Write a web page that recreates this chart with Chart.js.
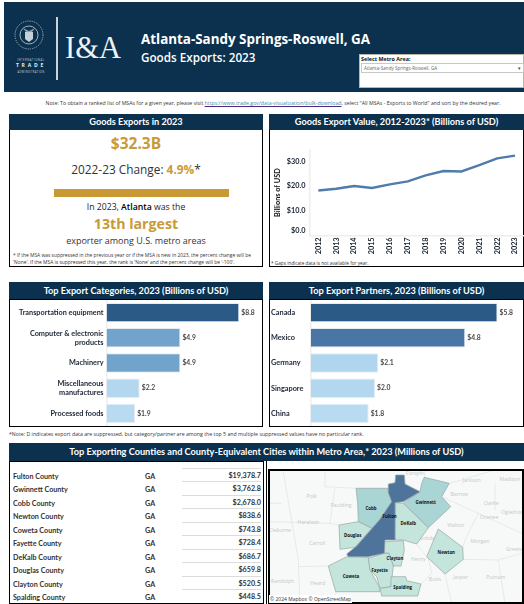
<!DOCTYPE html>
<html>
<head>
<meta charset="utf-8">
<title>Atlanta-Sandy Springs-Roswell, GA</title>
<script src="https://cdn.jsdelivr.net/npm/chart.js@4"></script>
<style>
html, body { margin: 0; padding: 0; background: #fff; overflow: hidden; }
body { width: 524px; height: 604px; position: relative; font-family: "Open Sans", sans-serif; color: #222; }
.abs { position: absolute; }
.bar { position: absolute; background: #0b314f; color: #fff; font-family: Lato, sans-serif; font-weight: 700; text-align: center; font-size: 9.2px; line-height: 16px; height: 16px; white-space: nowrap; }
.box { position: absolute; border: 1.5px solid #000; box-sizing: border-box; background: #fff; }
.center { position: absolute; text-align: center; white-space: nowrap; }
canvas { position: absolute; }
.row { position: absolute; left: 13px; width: 249px; height: 14px; font-family: Lato, sans-serif; font-size: 7.2px; font-weight: 700; color: #333; line-height: 14px; }
.row .st { position: absolute; left: 132px; }
.row .val { position: absolute; left: 169px; width: 79px; text-align: right; box-sizing: border-box; height: 13px; border-top: 1px solid #dcdcdc; top: -2px; line-height: 14px; }
</style>
</head>
<body>

<!-- header -->
<div class="abs" style="left:4px;top:2px;width:520px;height:90px;background:#0b314f"></div>
<svg class="abs" style="left:14px;top:20px" width="40" height="58">
  <circle cx="15" cy="15" r="14" fill="none" stroke="#9fb0bd" stroke-width="1" stroke-dasharray="1.2 1"></circle>
  <circle cx="15" cy="15" r="9" fill="none" stroke="#c5d0d8" stroke-width="0.8"></circle>
  <path d="M11 12h8v7l-4 3-4-3z" fill="#c5d0d8"></path>
  <path d="M9 8l6 3 6-3-3 4h-6z" fill="#8fa2b0"></path>
</svg>
<div class="abs" style="left:11px;top:58px;width:40px;text-align:center;color:#c9d3da;font-size:2.6px;letter-spacing:.6px">INTERNATIONAL</div>
<div class="abs" style="left:11px;top:62px;width:40px;text-align:center;color:#e6ebee;font-size:5px;font-weight:700;letter-spacing:2.8px">TRADE</div>
<div class="abs" style="left:11px;top:70px;width:40px;text-align:center;color:#c9d3da;font-size:2.6px;letter-spacing:.4px">ADMINISTRATION</div>
<div class="abs" style="left:56px;top:17px;width:1.5px;height:63px;background:#c9d3da"></div>
<div class="abs" style="left:65px;top:26px;color:#eef2f4;font-family:'Liberation Serif',serif;font-size:30.5px;line-height:44px">I&amp;A</div>
<div class="abs" style="left:141px;top:29px;color:#fff;font-size:13.4px;font-weight:700;line-height:20px;white-space:nowrap">Atlanta-Sandy Springs-Roswell, GA</div>
<div class="abs" style="left:141px;top:47px;color:#fff;font-size:11.7px;font-weight:600;line-height:20px;white-space:nowrap">Goods Exports: 2023</div>
<div class="abs" style="left:359px;top:54px;width:165px;height:34px;background:#fff;border:1px solid #b8b8a8;box-sizing:border-box"></div>
<div class="abs" style="left:361px;top:55px;font-size:5.4px;font-weight:700;color:#111;line-height:8px;white-space:nowrap">Select Metro Area:</div>
<div class="abs" style="left:361px;top:63px;width:163px;height:10px;border:1px solid #c8c8c8;box-sizing:border-box;font-size:4.6px;line-height:8px;color:#666;padding-left:2px;white-space:nowrap">Atlanta-Sandy Springs-Roswell, GA<span style="position:absolute;right:2px;color:#444">▾</span></div>

<div class="center" style="left:11px;width:524px;top:99px;font-size:5.22px;line-height:9px;color:#333">Note: To obtain a ranked list of MSAs for a given year, please visit <span style="color:#3f8fa8;text-decoration:underline;text-decoration-color:#4b2a86">https://www.trade.gov/data-visualization/bulk-download</span>, select "All MSAs - Exports to World" and sort by the desired year.</div>

<!-- KPI panel -->
<div class="box" style="left:9px;top:129px;width:254px;height:138px"></div>
<div class="bar" style="left:9px;top:114px;width:254px">Goods Exports in 2023</div>
<div class="center" id="kpiValue" style="left:9px;width:254px;top:131px;font-size:15.5px;font-weight:700;color:#c99a38;line-height:24px"></div>
<div class="center" id="kpiChange" style="left:9px;width:254px;top:160px;font-size:11.85px;color:#333;line-height:18px"></div>
<div class="abs" style="left:54px;top:189px;width:175px;height:8px;background:#c99a34"></div>
<div class="center" id="kpiRankA" style="left:9px;width:254px;top:200px;font-size:8.7px;color:#222;line-height:14px"></div>
<div class="center" id="kpiRank" style="left:9px;width:254px;top:214px;font-size:14.2px;font-weight:700;color:#c99a38;line-height:20px"></div>
<div class="center" style="left:9px;width:254px;top:234px;font-size:9px;color:#333;line-height:14px">exporter among U.S. metro areas</div>
<div class="abs" style="left:13px;top:252px;width:240px;height:13.5px;overflow:hidden;font-size:4.9px;line-height:7.4px;color:#333">* If the MSA was suppressed in the previous year or if the MSA is new in 2023, the percent change will be 'None'. If the MSA is suppressed this year, the rank is 'None' and the percent change will be '-100'.</div>

<!-- line panel -->
<div class="box" style="left:269px;top:129px;width:255px;height:138px"></div>
<div class="bar" style="left:269px;top:114px;width:255px">Goods Export Value, 2012-2023* (Billions of USD)</div>
<canvas id="lineChart" style="left:271px;top:140px"></canvas>
<div class="abs" style="left:271px;top:259px;font-size:4.7px;line-height:8px;color:#333">* Gaps indicate data is not available for year.</div>

<!-- category panel -->
<div class="box" style="left:9px;top:299px;width:254px;height:128px"></div>
<div class="bar" style="left:9px;top:282px;width:254px;height:17px;line-height:17px">Top Export Categories, 2023 (Billions of USD)</div>
<canvas id="categoryChart" style="left:11px;top:300px"></canvas>

<!-- partner panel -->
<div class="box" style="left:269px;top:299px;width:255px;height:128px"></div>
<div class="bar" style="left:269px;top:282px;width:255px;height:17px;line-height:17px">Top Export Partners, 2023 (Billions of USD)</div>
<canvas id="partnerChart" style="left:271px;top:300px"></canvas>

<div class="abs" style="left:9px;top:430px;font-size:5.23px;line-height:8px;color:#333;white-space:nowrap">*Note: D indicates export data are suppressed, but category/partner are among the top 5 and multiple suppressed values have no particular rank.</div>

<!-- county panel -->
<div class="box" style="left:9px;top:461px;width:255px;height:143px"></div>
<div class="abs" style="left:265.5px;top:461px;width:1.2px;height:143px;background:#000"></div>
<div class="bar" style="left:9px;top:443px;width:515px;height:18px;line-height:18px">Top Exporting Counties and County-Equivalent Cities within Metro Area,* 2023 (Millions of USD)</div>
<div id="countyTable"></div>

<!-- map panel -->
<svg class="abs" id="mapSvg" style="left:268px;top:469px;border:2px solid #000;box-sizing:border-box;background:#f7f8f8" width="256" height="135" viewBox="0 0 252 131" font-family="'Open Sans',sans-serif"></svg>
<div class="abs" style="left:269px;top:595px;background:#fff;font-size:5px;line-height:8px;color:#333;padding:0 1px;white-space:nowrap">© 2024 Mapbox  © OpenStreetMap</div>

<script>
// Headline figures
var kpiValue = '$32.3B';
var kpiChange = '4.9%';
var kpiRank = '13th largest';

// Line chart
var years = ['2012', '2013', '2014', '2015', '2016', '2017', '2018', '2019', '2020', '2021', '2022', '2023'];
var exportValues = [18.2, 18.9, 20.0, 19.2, 20.7, 21.9, 24.3, 26.1, 25.9, 28.5, 31.2, 32.3];
var lineTicks = [0, 10, 20, 30];

// Bar charts
var categories = ['Transportation equipment', ['Computer & electronic', 'products'], 'Machinery', ['Miscellaneous', 'manufactures'], 'Processed foods'];
var categoryValues = [8.8, 4.9, 4.9, 2.2, 1.9];
var categoryColors = ['#2c5a87', '#72a3cb', '#72a3cb', '#b3d7ef', '#b8dbf1'];
var partners = ['Canada', 'Mexico', 'Germany', 'Singapore', 'China'];
var partnerValues = [5.8, 4.8, 2.1, 2.0, 1.8];
var partnerColors = ['#2c5a87', '#4a76a6', '#b0d5ee', '#b3d7ef', '#b8dbf1'];

// County table
var counties = ['Fulton County', 'Gwinnett County', 'Cobb County', 'Newton County', 'Coweta County', 'Fayette County', 'DeKalb County', 'Douglas County', 'Clayton County', 'Spalding County'];
var countyValues = ['$19,378.7', '$3,762.8', '$2,678.0', '$838.6', '$743.8', '$728.4', '$686.7', '$659.8', '$520.5', '$448.5'];

document.getElementById('kpiValue').textContent = kpiValue;
document.getElementById('kpiChange').innerHTML = '2022-23 Change: <b style="color:#c99a38">' + kpiChange + '</b>*';
document.getElementById('kpiRankA').innerHTML = 'In 2023, <b style="font-weight:600;color:#000">Atlanta</b> was the';
document.getElementById('kpiRank').textContent = kpiRank;

// table rows
var tableHtml = '';
var rowTops = [470, 483, 497, 510, 524, 537, 551, 564, 578, 591];
counties.forEach(function (name, i) {
    tableHtml += '<div class="row" style="top:' + rowTops[i] + 'px">' + name +
        '<span class="st">GA</span><span class="val">' + countyValues[i] + '</span></div>';
});
document.getElementById('countyTable').innerHTML = tableHtml;

function sizeCanvas(id, w, h) {
    var c = document.getElementById(id);
    c.width = w;
    c.height = h;
    c.style.width = w + 'px';
    c.style.height = h + 'px';
    return c.getContext('2d');
}

var labelFont = { family: 'Lato, sans-serif', size: 7.3, weight: '700' };

// Line Chart
new Chart(sizeCanvas('lineChart', 253, 118), {
    type: 'line',
    data: {
        labels: years,
        datasets: [{
            data: exportValues,
            borderColor: '#4f7cab',
            borderWidth: 2.4,
            pointRadius: 0,
            tension: 0
        }]
    },
    options: {
        responsive: false,
        animation: false,
        layout: { padding: { top: 10, right: 0, bottom: 0, left: 0 } },
        plugins: {
            legend: { display: false },
            tooltip: { enabled: false }
        },
        scales: {
            x: {
                offset: true,
                grid: { display: false, drawTicks: false },
                border: { color: '#eeeeee', width: 1.5 },
                afterFit: function (axis) {
                    axis.height = 22.6;
                    axis.paddingLeft = 0;
                    axis.paddingRight = 0;
                },
                ticks: { color: '#1a2433', font: labelFont, maxRotation: 90, minRotation: 90, padding: 2, autoSkip: false }
            },
            y: {
                min: 0,
                max: 34.6,
                afterBuildTicks: function (axis) {
                    axis.ticks = lineTicks.map(function (v) { return { value: v }; });
                },
                afterFit: function (axis) {
                    axis.width = 38.4;
                    axis.paddingTop = 0;
                    axis.paddingBottom = 0;
                },
                grid: { display: false, drawTicks: false },
                border: { color: '#eeeeee', width: 1.5 },
                ticks: {
                    color: '#1a2433',
                    font: labelFont,
                    padding: 4,
                    callback: function (v) {
                        // the zero label sits a little above the axis end
                        return v === 0 ? ['$0.0', ''] : '$' + v.toFixed(1);
                    }
                },
                title: { display: true, text: 'Billions of USD', color: '#111', font: labelFont, padding: { top: 2, bottom: 0 } }
            }
        }
    }
});

// value labels at the end of the bars
var valueLabels = {
    id: 'valueLabels',
    afterDatasetsDraw: function (chart) {
        var ctx = chart.ctx;
        var meta = chart.getDatasetMeta(0);
        ctx.save();
        ctx.font = '700 6.8px Lato, sans-serif';
        ctx.fillStyle = '#4a4a4a';
        ctx.textBaseline = 'middle';
        meta.data.forEach(function (bar, i) {
            ctx.fillText('$' + chart.data.datasets[0].data[i].toFixed(1), bar.x + 2, bar.y);
        });
        ctx.restore();
    }
};

function barChart(id, w, labels, values, colors, xMax, axisWidth, labelAlign) {
    return new Chart(sizeCanvas(id, w, 126), {
        type: 'bar',
        data: {
            labels: labels,
            datasets: [{
                data: values,
                backgroundColor: colors,
                borderColor: '#e4eef6',
                borderWidth: 1,
                categoryPercentage: 0.77,
                barPercentage: 1
            }]
        },
        options: {
            indexAxis: 'y',
            responsive: false,
            animation: false,
            layout: { padding: 0 },
            plugins: {
                legend: { display: false },
                tooltip: { enabled: false }
            },
            scales: {
                x: { display: false, min: 0, max: xMax },
                y: {
                    grid: { display: false, drawTicks: false },
                    border: { color: '#eeeeee', width: 1.5 },
                    afterFit: function (axis) {
                        axis.width = axisWidth;
                        axis.paddingTop = 0;
                        axis.paddingBottom = 0;
                    },
                    ticks: {
                        color: '#1a2433',
                        font: labelFont,
                        padding: 3,
                        crossAlign: labelAlign,
                        autoSkip: false
                    }
                }
            }
        },
        plugins: [valueLabels]
    });
}

barChart('categoryChart', 250, categories, categoryValues, categoryColors, 10.24, 95.5, 'near');
barChart('partnerChart', 251, partners, partnerValues, partnerColors, 6.56, 39.7, 'far');

// Map: county shapes and basemap names, in map units of the svg viewBox
var mapCounties = [
    { name: 'Cobb', color: '#a9d5d5', pts: '86,17.3 117.7,17.3 119,22.3 122.3,30.7 110,48.3 101.7,57.3 88.3,50.7 87.7,32.3' },
    { name: 'Gwinnett', color: '#a9d5d5', pts: '154.3,6.3 179.3,12.3 171.7,25.7 180.7,35.7 158.3,56.7 133.3,32.3 150,20.7 151.7,12.3' },
    { name: 'DeKalb', color: '#c3e5dc', pts: '125.7,31.7 133.3,32.3 158.3,56.7 146.7,73 133.3,69 125,69' },
    { name: 'Douglas', color: '#c3e5dc', pts: '69,54 88.3,50.7 101.7,57.3 85,76.3 70,78.3' },
    { name: 'Newton', color: '#c3e5dc', pts: '168.3,58 192.7,76.3 193.3,88.3 175,103 156.7,85.7' },
    { name: 'Clayton', color: '#c3e5dc', pts: '114.3,70.7 133.3,69.7 134.3,79 131,95 123.3,95 119,82.3 114.3,82.3' },
    { name: 'Coweta', color: '#c3e5dc', pts: '58.3,95 76.7,85.7 98.3,86.3 100,99 110,117.3 110,120.7 65.7,120.7' },
    { name: 'Fayette', color: '#c3e5dc', pts: '98.3,87.3 114.3,82.3 119,82.3 123.3,95 121,115.7 110,117.3 106.7,105.7 100,99' },
    { name: 'Spalding', color: '#c3e5dc', pts: '121,105.7 135.7,105.7 136.7,109.7 151,113 147.7,125 111.7,125 110,117.3 121,115.7' },
    { name: 'Fulton', color: '#4f749c', pts: '125.7,4 134.3,4 135,13 150,20.7 133.3,30.7 125,31.7 125,69 115,69 114.3,82.3 98.3,85.7 78.3,85.7 76.7,83 86.7,75 110,48.3 121.7,30.7 118.3,21.7 118.3,13 125,11.7' }
];
var mapLabels = [
    ['Fulton', 119.7, 47], ['Cobb', 101, 39], ['Gwinnett', 155.7, 33], ['DeKalb', 138.3, 54], ['Douglas', 82.7, 66],
    ['Newton', 176.3, 83], ['Clayton', 125, 89], ['Fayette', 109.7, 101], ['Coweta', 81, 107], ['Spalding', 132.7, 118]
];
var baseLabels = [
    ['Forsyth', 145, 4], ['Jackson', 201.7, 11], ['Madison', 240, 10], ['Polk', 41.7, 27], ['Paulding', 71, 36],
    ['Barrow', 189.3, 25], ['Clarke', 221, 34], ['Oglethorpe', 245, 43], ['Oconee', 219, 48], ['Haralson', 38.3, 53],
    ['Walton', 185.7, 56], ['Cleburne', 10, 61], ['Carroll', 47.3, 74], ['Morgan', 210, 72], ['Greene', 245, 80],
    ['Rockdale', 158, 69], ['Henry', 148.3, 90], ['Randolph', 12.7, 112], ['Heard', 47.7, 114], ['Butts', 165, 110],
    ['Jasper', 190.7, 108], ['Putnam', 225.7, 108]
];
// basemap county lines, in crop pixels (x3) then scaled to the viewBox
var baseLines = [
    'M55 35L100 300L105 430', 'M180 35L180 80L273 85', 'M210 85L195 190L222 195', 'M15 130L50 130', 'M15 185L195 190',
    'M100 320L190 318', 'M555 70L690 30', 'M530 110L640 160L600 240L593 262', 'M690 70L690 150', 'M640 160L770 220',
    'M595 298L700 300', 'M540 342L560 430', 'M700 300L770 280', 'M468 372L500 340L490 295', 'M455 252L485 290',
    'M700 300L720 430', 'M212 395L215 430', 'M478 52L480 30'
];

var svgHtml = '<g transform="translate(-5,-11) scale(0.3333)">';
baseLines.forEach(function (d) {
    svgHtml += '<path d="' + d + '" fill="none" stroke="#e0e2e3" stroke-width="2"></path>';
});
svgHtml += '</g>';
baseLabels.forEach(function (l) {
    svgHtml += '<text x="' + l[1] + '" y="' + l[2] + '" text-anchor="middle" font-size="5.2" fill="#c4c8ca">' + l[0] + '</text>';
});
mapCounties.forEach(function (c) {
    svgHtml += '<polygon points="' + c.pts + '" fill="' + c.color + '" stroke="#9aa5a5" stroke-width="0.7"></polygon>';
});
mapLabels.forEach(function (l) {
    svgHtml += '<text x="' + l[1] + '" y="' + l[2] + '" text-anchor="middle" font-size="4.4" font-weight="700" fill="#111">' + l[0] + '</text>';
});
document.getElementById('mapSvg').innerHTML = svgHtml;
</script>
</body>
</html>
